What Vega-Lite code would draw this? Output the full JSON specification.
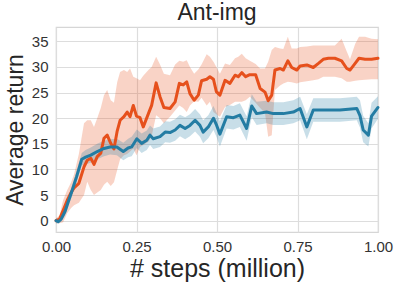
{
  "$schema": "https://vega.github.io/schema/vega-lite/v6.json",
  "width": 322,
  "height": 205,
  "autosize": "none",
  "padding": {"left": 56, "top": 27, "right": 21, "bottom": 54},
  "background": "white",
  "title": {"text": "Ant-img", "fontSize": 23, "font": "Liberation Sans", "fontWeight": "normal", "color": "#262626", "offset": 2},
  "config": {
    "view": {"stroke": "#d6d6d6", "strokeWidth": 1.2},
    "axis": {"font": "Liberation Sans", "labelFont": "Liberation Sans", "titleFont": "Liberation Sans", "labelFontSize": 15, "titleFontSize": 25, "titleFontWeight": "normal", "labelColor": "#333333", "titleColor": "#262626", "gridColor": "#dddddd", "gridWidth": 1.2, "domain": false, "ticks": false}
  },
  "datasets": {
    "d": [
      {"s": "A", "x": 0.0, "y": 0.0, "lo": -0.5, "hi": 0.5},
      {"s": "A", "x": 0.011, "y": 0.3, "lo": -0.5, "hi": 1.0},
      {"s": "A", "x": 0.022, "y": 2.0, "lo": -0.3, "hi": 4.0},
      {"s": "A", "x": 0.035, "y": 4.0, "lo": 1.5, "hi": 6.0},
      {"s": "A", "x": 0.047, "y": 5.5, "lo": 2.5, "hi": 7.5},
      {"s": "A", "x": 0.056, "y": 6.4, "lo": 3.0, "hi": 9.0},
      {"s": "A", "x": 0.071, "y": 7.3, "lo": 3.5, "hi": 13.0},
      {"s": "A", "x": 0.087, "y": 10.5, "lo": 5.0, "hi": 19.0},
      {"s": "A", "x": 0.097, "y": 11.8, "lo": 7.6, "hi": 19.6},
      {"s": "A", "x": 0.108, "y": 12.2, "lo": 6.0, "hi": 19.6},
      {"s": "A", "x": 0.118, "y": 11.0, "lo": 5.0, "hi": 18.3},
      {"s": "A", "x": 0.128, "y": 12.5, "lo": 5.5, "hi": 20.0},
      {"s": "A", "x": 0.139, "y": 13.2, "lo": 6.0, "hi": 22.0},
      {"s": "A", "x": 0.149, "y": 16.1, "lo": 7.0, "hi": 24.5},
      {"s": "A", "x": 0.159, "y": 16.7, "lo": 7.6, "hi": 25.5},
      {"s": "A", "x": 0.17, "y": 15.1, "lo": 6.8, "hi": 23.5},
      {"s": "A", "x": 0.18, "y": 14.0, "lo": 7.5, "hi": 23.0},
      {"s": "A", "x": 0.19, "y": 17.5, "lo": 9.9, "hi": 27.0},
      {"s": "A", "x": 0.199, "y": 19.6, "lo": 12.0, "hi": 29.0},
      {"s": "A", "x": 0.211, "y": 20.3, "lo": 12.8, "hi": 29.4},
      {"s": "A", "x": 0.221, "y": 21.2, "lo": 13.0, "hi": 29.0},
      {"s": "A", "x": 0.23, "y": 20.3, "lo": 13.5, "hi": 29.7},
      {"s": "A", "x": 0.24, "y": 22.5, "lo": 14.1, "hi": 28.1},
      {"s": "A", "x": 0.25, "y": 20.4, "lo": 12.8, "hi": 27.8},
      {"s": "A", "x": 0.261, "y": 20.1, "lo": 14.4, "hi": 27.4},
      {"s": "A", "x": 0.271, "y": 18.3, "lo": 14.8, "hi": 28.3},
      {"s": "A", "x": 0.287, "y": 20.9, "lo": 15.4, "hi": 29.4},
      {"s": "A", "x": 0.297, "y": 22.5, "lo": 16.5, "hi": 30.0},
      {"s": "A", "x": 0.311, "y": 26.9, "lo": 20.6, "hi": 32.0},
      {"s": "A", "x": 0.323, "y": 24.2, "lo": 20.0, "hi": 30.5},
      {"s": "A", "x": 0.335, "y": 22.1, "lo": 19.0, "hi": 28.7},
      {"s": "A", "x": 0.354, "y": 21.9, "lo": 20.3, "hi": 28.4},
      {"s": "A", "x": 0.37, "y": 23.2, "lo": 21.5, "hi": 30.5},
      {"s": "A", "x": 0.383, "y": 26.8, "lo": 22.5, "hi": 31.2},
      {"s": "A", "x": 0.395, "y": 26.5, "lo": 22.0, "hi": 31.0},
      {"s": "A", "x": 0.406, "y": 27.1, "lo": 21.2, "hi": 31.3},
      {"s": "A", "x": 0.416, "y": 24.8, "lo": 22.5, "hi": 30.0},
      {"s": "A", "x": 0.429, "y": 23.5, "lo": 23.3, "hi": 28.7},
      {"s": "A", "x": 0.442, "y": 24.5, "lo": 23.2, "hi": 29.5},
      {"s": "A", "x": 0.452, "y": 27.3, "lo": 24.0, "hi": 30.5},
      {"s": "A", "x": 0.468, "y": 27.6, "lo": 22.5, "hi": 32.5},
      {"s": "A", "x": 0.478, "y": 28.1, "lo": 23.2, "hi": 32.0},
      {"s": "A", "x": 0.489, "y": 27.6, "lo": 21.2, "hi": 31.0},
      {"s": "A", "x": 0.498, "y": 25.2, "lo": 20.8, "hi": 30.0},
      {"s": "A", "x": 0.509, "y": 24.5, "lo": 20.3, "hi": 28.7},
      {"s": "A", "x": 0.525, "y": 27.4, "lo": 22.2, "hi": 30.7},
      {"s": "A", "x": 0.54, "y": 26.8, "lo": 22.6, "hi": 30.4},
      {"s": "A", "x": 0.556, "y": 28.4, "lo": 23.2, "hi": 31.7},
      {"s": "A", "x": 0.566, "y": 28.1, "lo": 23.2, "hi": 32.0},
      {"s": "A", "x": 0.577, "y": 28.9, "lo": 23.2, "hi": 32.6},
      {"s": "A", "x": 0.589, "y": 28.1, "lo": 23.5, "hi": 31.7},
      {"s": "A", "x": 0.602, "y": 28.5, "lo": 24.2, "hi": 31.2},
      {"s": "A", "x": 0.62, "y": 28.5, "lo": 23.0, "hi": 30.6},
      {"s": "A", "x": 0.634, "y": 25.8, "lo": 22.0, "hi": 29.7},
      {"s": "A", "x": 0.649, "y": 25.1, "lo": 21.0, "hi": 29.7},
      {"s": "A", "x": 0.659, "y": 23.4, "lo": 16.4, "hi": 31.0},
      {"s": "A", "x": 0.67, "y": 24.5, "lo": 16.7, "hi": 33.3},
      {"s": "A", "x": 0.68, "y": 29.4, "lo": 25.5, "hi": 33.9},
      {"s": "A", "x": 0.696, "y": 29.7, "lo": 26.4, "hi": 33.6},
      {"s": "A", "x": 0.706, "y": 29.4, "lo": 26.8, "hi": 33.5},
      {"s": "A", "x": 0.72, "y": 31.2, "lo": 27.1, "hi": 35.9},
      {"s": "A", "x": 0.732, "y": 29.9, "lo": 27.0, "hi": 33.6},
      {"s": "A", "x": 0.748, "y": 29.4, "lo": 26.8, "hi": 33.6},
      {"s": "A", "x": 0.758, "y": 30.2, "lo": 27.0, "hi": 33.9},
      {"s": "A", "x": 0.779, "y": 30.4, "lo": 27.2, "hi": 34.0},
      {"s": "A", "x": 0.799, "y": 29.9, "lo": 27.4, "hi": 34.2},
      {"s": "A", "x": 0.815, "y": 30.7, "lo": 27.6, "hi": 34.2},
      {"s": "A", "x": 0.83, "y": 31.5, "lo": 28.1, "hi": 34.2},
      {"s": "A", "x": 0.846, "y": 31.7, "lo": 28.1, "hi": 34.2},
      {"s": "A", "x": 0.866, "y": 31.7, "lo": 28.1, "hi": 34.2},
      {"s": "A", "x": 0.887, "y": 31.2, "lo": 27.8, "hi": 35.5},
      {"s": "A", "x": 0.903, "y": 29.7, "lo": 27.1, "hi": 33.0},
      {"s": "A", "x": 0.913, "y": 29.4, "lo": 27.1, "hi": 31.5},
      {"s": "A", "x": 0.929, "y": 30.7, "lo": 27.3, "hi": 34.5},
      {"s": "A", "x": 0.941, "y": 31.7, "lo": 27.4, "hi": 35.9},
      {"s": "A", "x": 0.96, "y": 31.5, "lo": 27.5, "hi": 35.9},
      {"s": "A", "x": 0.98, "y": 31.5, "lo": 27.6, "hi": 35.5},
      {"s": "A", "x": 1.0, "y": 31.7, "lo": 27.6, "hi": 35.4},
      {"s": "B", "x": 0.0, "y": 0.0, "lo": -0.5, "hi": 0.5},
      {"s": "B", "x": 0.007, "y": -0.2, "lo": -0.6, "hi": 0.3},
      {"s": "B", "x": 0.016, "y": 0.3, "lo": -0.2, "hi": 0.9},
      {"s": "B", "x": 0.028, "y": 1.8, "lo": 1.0, "hi": 2.6},
      {"s": "B", "x": 0.037, "y": 3.5, "lo": 2.6, "hi": 4.4},
      {"s": "B", "x": 0.049, "y": 5.7, "lo": 4.7, "hi": 6.7},
      {"s": "B", "x": 0.064, "y": 8.6, "lo": 7.5, "hi": 9.7},
      {"s": "B", "x": 0.08, "y": 12.0, "lo": 10.8, "hi": 13.2},
      {"s": "B", "x": 0.092, "y": 12.4, "lo": 11.0, "hi": 13.8},
      {"s": "B", "x": 0.108, "y": 12.8, "lo": 11.3, "hi": 14.3},
      {"s": "B", "x": 0.128, "y": 13.5, "lo": 12.0, "hi": 15.0},
      {"s": "B", "x": 0.149, "y": 14.1, "lo": 12.6, "hi": 15.6},
      {"s": "B", "x": 0.168, "y": 14.4, "lo": 12.9, "hi": 15.9},
      {"s": "B", "x": 0.189, "y": 14.4, "lo": 12.8, "hi": 16.0},
      {"s": "B", "x": 0.209, "y": 13.5, "lo": 11.8, "hi": 15.2},
      {"s": "B", "x": 0.224, "y": 14.2, "lo": 12.4, "hi": 16.0},
      {"s": "B", "x": 0.235, "y": 14.4, "lo": 12.6, "hi": 16.4},
      {"s": "B", "x": 0.251, "y": 16.0, "lo": 14.2, "hi": 17.8},
      {"s": "B", "x": 0.266, "y": 15.1, "lo": 13.2, "hi": 17.0},
      {"s": "B", "x": 0.282, "y": 15.7, "lo": 13.8, "hi": 17.6},
      {"s": "B", "x": 0.292, "y": 16.7, "lo": 14.8, "hi": 18.6},
      {"s": "B", "x": 0.302, "y": 16.0, "lo": 14.0, "hi": 18.0},
      {"s": "B", "x": 0.323, "y": 16.4, "lo": 14.4, "hi": 18.4},
      {"s": "B", "x": 0.339, "y": 17.3, "lo": 15.3, "hi": 19.4},
      {"s": "B", "x": 0.354, "y": 17.2, "lo": 15.2, "hi": 19.3},
      {"s": "B", "x": 0.37, "y": 17.7, "lo": 15.6, "hi": 19.8},
      {"s": "B", "x": 0.385, "y": 18.6, "lo": 16.5, "hi": 20.7},
      {"s": "B", "x": 0.401, "y": 18.0, "lo": 15.9, "hi": 20.2},
      {"s": "B", "x": 0.416, "y": 18.6, "lo": 16.5, "hi": 20.8},
      {"s": "B", "x": 0.432, "y": 19.6, "lo": 17.4, "hi": 21.8},
      {"s": "B", "x": 0.447, "y": 18.6, "lo": 16.4, "hi": 20.8},
      {"s": "B", "x": 0.457, "y": 17.3, "lo": 15.1, "hi": 19.6},
      {"s": "B", "x": 0.473, "y": 18.3, "lo": 16.1, "hi": 20.6},
      {"s": "B", "x": 0.489, "y": 20.0, "lo": 17.7, "hi": 22.4},
      {"s": "B", "x": 0.499, "y": 18.6, "lo": 16.3, "hi": 21.0},
      {"s": "B", "x": 0.509, "y": 16.9, "lo": 14.5, "hi": 19.4},
      {"s": "B", "x": 0.53, "y": 20.3, "lo": 18.0, "hi": 22.6},
      {"s": "B", "x": 0.551, "y": 20.1, "lo": 17.8, "hi": 22.4},
      {"s": "B", "x": 0.571, "y": 20.6, "lo": 18.3, "hi": 22.9},
      {"s": "B", "x": 0.592, "y": 18.0, "lo": 15.6, "hi": 20.4},
      {"s": "B", "x": 0.608, "y": 22.4, "lo": 20.2, "hi": 24.7},
      {"s": "B", "x": 0.623, "y": 20.9, "lo": 18.7, "hi": 23.2},
      {"s": "B", "x": 0.654, "y": 21.2, "lo": 19.0, "hi": 23.4},
      {"s": "B", "x": 0.675, "y": 20.9, "lo": 18.7, "hi": 23.1},
      {"s": "B", "x": 0.706, "y": 20.9, "lo": 18.7, "hi": 23.1},
      {"s": "B", "x": 0.737, "y": 21.2, "lo": 19.0, "hi": 23.5},
      {"s": "B", "x": 0.758, "y": 21.9, "lo": 19.6, "hi": 24.2},
      {"s": "B", "x": 0.779, "y": 18.3, "lo": 15.9, "hi": 20.8},
      {"s": "B", "x": 0.799, "y": 21.6, "lo": 19.3, "hi": 23.9},
      {"s": "B", "x": 0.841, "y": 21.6, "lo": 19.3, "hi": 23.9},
      {"s": "B", "x": 0.882, "y": 21.6, "lo": 19.3, "hi": 23.9},
      {"s": "B", "x": 0.934, "y": 21.9, "lo": 19.6, "hi": 24.2},
      {"s": "B", "x": 0.944, "y": 20.5, "lo": 18.2, "hi": 23.5},
      {"s": "B", "x": 0.954, "y": 17.7, "lo": 15.3, "hi": 20.5},
      {"s": "B", "x": 0.97, "y": 16.7, "lo": 14.5, "hi": 19.0},
      {"s": "B", "x": 0.98, "y": 20.4, "lo": 18.0, "hi": 23.0},
      {"s": "B", "x": 1.0, "y": 22.1, "lo": 19.9, "hi": 24.3}
    ]
  },
  "data": {"name": "d"},
  "encoding": {
    "x": {"field": "x", "type": "quantitative", "scale": {"domain": [0, 1], "nice": false, "zero": false},
      "axis": {"values": [0, 0.25, 0.5, 0.75, 1], "format": ".2f", "title": "# steps (million)", "labelPadding": 7, "titlePadding": 2, "grid": true, "labelFlush": false}},
    "color": {"field": "s", "type": "nominal", "scale": {"domain": ["A", "B"], "range": ["#e6501c", "#237ca3"]}, "legend": null}
  },
  "layer": [
    {"mark": {"type": "area", "opacity": 0.25},
      "encoding": {
        "y": {"field": "lo", "type": "quantitative", "stack": null, "scale": {"domain": [-2.2, 37.8], "nice": false, "zero": false},
          "axis": {"values": [0, 5, 10, 15, 20, 25, 30, 35], "title": "Average return", "titleFontSize": 23, "labelPadding": 8, "titlePadding": 4, "grid": true}},
        "y2": {"field": "hi"}
      }},
    {"mark": {"type": "line", "strokeWidth": 3, "strokeJoin": "round", "strokeCap": "round"},
      "encoding": {
        "y": {"field": "y", "type": "quantitative", "scale": {"domain": [-2.2, 37.8], "nice": false, "zero": false},
          "axis": {"values": [0, 5, 10, 15, 20, 25, 30, 35], "title": "Average return", "titleFontSize": 23, "labelPadding": 8, "titlePadding": 4, "grid": true}},
        "order": {"field": "x"}
      }}
  ]
}
